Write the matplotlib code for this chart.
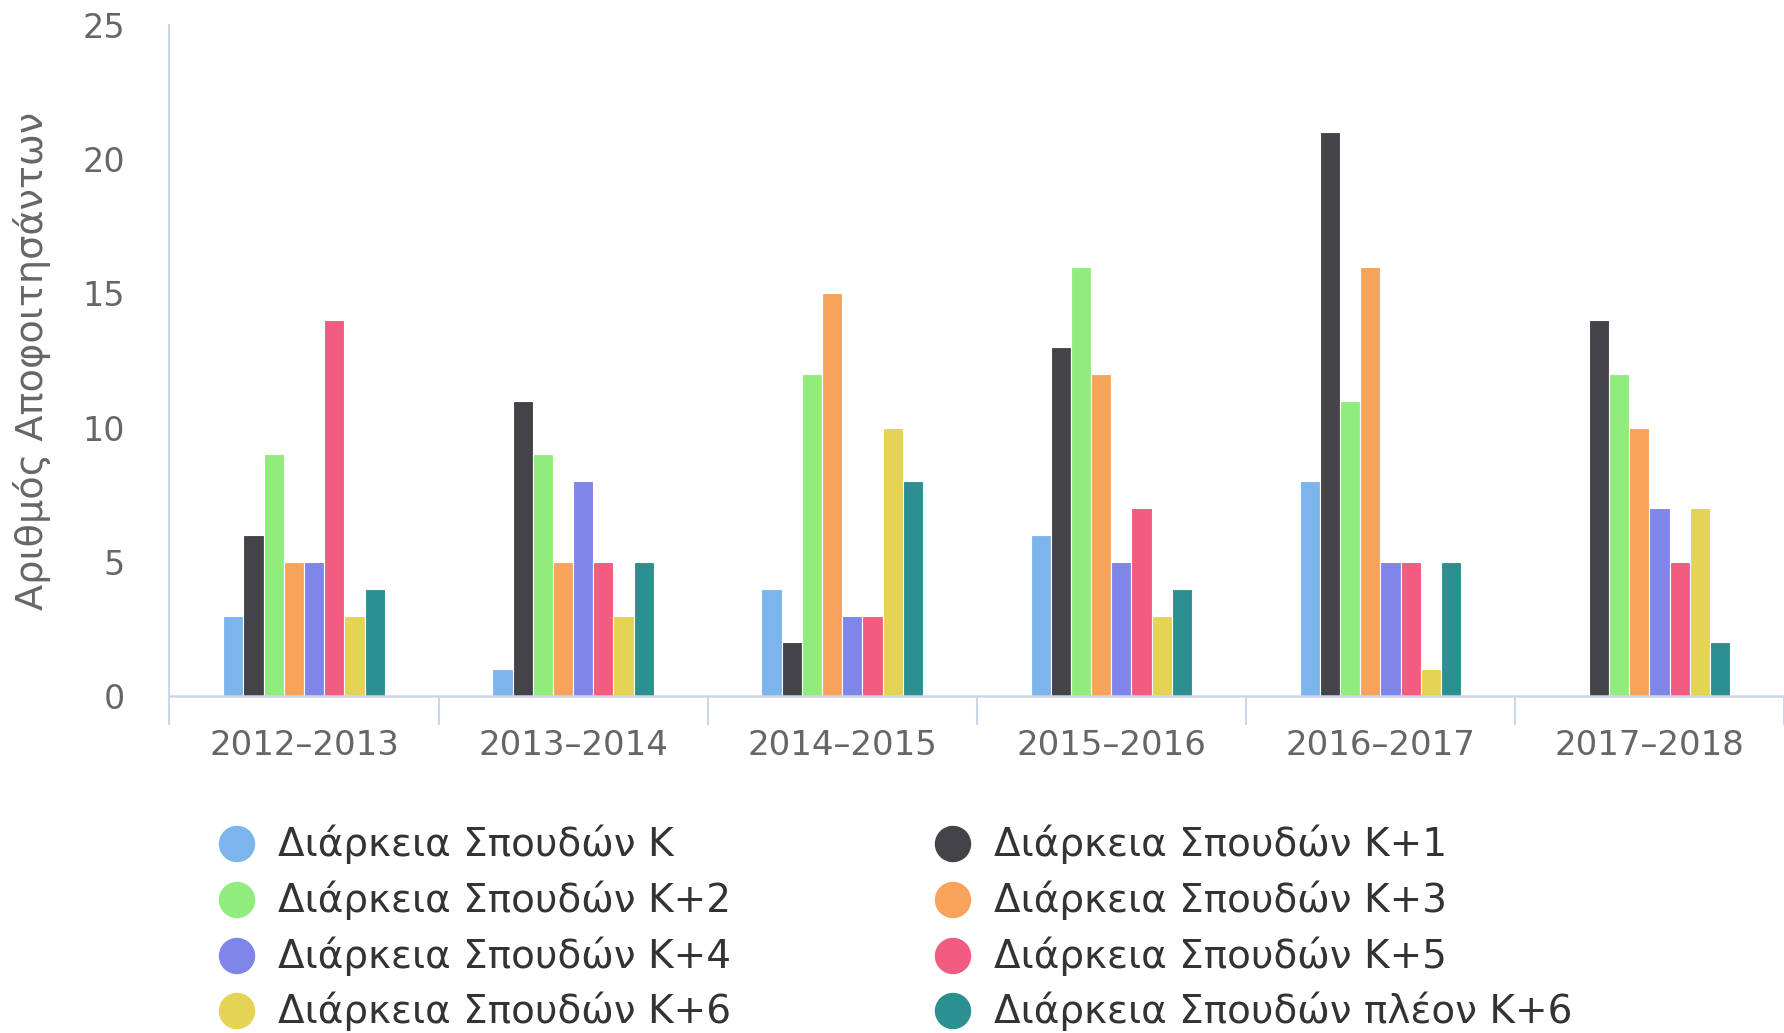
import numpy as np
import matplotlib
matplotlib.use("Agg")
import matplotlib.pyplot as plt
from matplotlib.patches import Ellipse

years = ["2012-2013", "2013-2014", "2014-2015", "2015-2016", "2016-2017", "2017-2018"]
series_names = ["Διάρκεια Σπουδών K", "Διάρκεια Σπουδών K+1", "Διάρκεια Σπουδών K+2",
                "Διάρκεια Σπουδών K+3", "Διάρκεια Σπουδών K+4", "Διάρκεια Σπουδών K+5",
                "Διάρκεια Σπουδών K+6", "Διάρκεια Σπουδών πλέον K+6"]
k0 = [3, 1, 4, 6, 8, 0]
k1 = [6, 11, 2, 13, 21, 14]
k2 = [9, 9, 12, 16, 11, 12]
k3 = [5, 5, 15, 12, 16, 10]
k4 = [5, 8, 3, 5, 5, 7]
k5 = [14, 5, 3, 7, 5, 5]
k6 = [3, 3, 10, 3, 1, 7]
k7 = [4, 5, 8, 4, 5, 2]
colors = ["#7cb5ec", "#434348", "#90ed7d", "#f7a35c", "#8085e9", "#f15c80", "#e4d354", "#2b908f"]
yticks = [0, 5, 10, 15, 20, 25]

values = [k0, k1, k2, k3, k4, k5, k6, k7]

fig = plt.figure(figsize=(17.84, 10.33), dpi=100)
ax = fig.add_axes([0.095, 0.3262, 0.905, 0.6496])

x = np.arange(len(years))
n = len(values)
bw = 0.6 / n
for i, vals in enumerate(values):
    pos = x - 0.3 + bw * (i + 0.5)
    ax.bar(pos, vals, width=bw, color=colors[i], edgecolor="white", linewidth=0.8, zorder=2)

ax.set_xlim(-0.5, 5.447)
ax.set_ylim(0, 25)

for s in ["top", "right"]:
    ax.spines[s].set_visible(False)
ax.spines["left"].set_color("#ccd6eb")
ax.spines["left"].set_linewidth(1.5)
ax.spines["bottom"].set_color("#ccd6eb")
ax.spines["bottom"].set_linewidth(1.8)

# boundaries between years get tick marks, labels sit in the middle
ax.set_xticks(np.arange(-0.5, 6, 1.0))
ax.set_xticklabels([])
ax.tick_params(axis="x", which="major", length=21, width=1.5, color="#ccd6eb")
ax.set_xticks(x, minor=True)
ax.set_xticklabels([y.replace("-", "–") for y in years], minor=True)
ax.tick_params(axis="x", which="minor", length=0, pad=24, labelsize=24.5, labelcolor="#666666")

ax.set_yticks(yticks)
ax.tick_params(axis="y", length=0, pad=32, labelsize=24, labelcolor="#666666")

ax.set_ylabel("Αριθμός Αποφοιτησάντων", fontsize=27.5, color="#666666")
ax.yaxis.set_label_coords(-0.0735, 0.5)

# legend laid out in two columns, filled row by row
col_x = [237, 953]
row_y = [844, 900, 956, 1011]
W, H = 1784, 1033
for i, name in enumerate(series_names):
    cx = col_x[i % 2]
    cy = row_y[i // 2]
    fig.add_artist(Ellipse((cx / W, 1 - cy / H), 35 / W, 35 / H,
                           transform=fig.transFigure, color=colors[i]))
    fig.text((cx + 41) / W, 1 - cy / H, name, fontsize=28, color="#333333",
             family="DejaVu Sans", va="center", ha="left")

fig.savefig("out.png", dpi=100)
